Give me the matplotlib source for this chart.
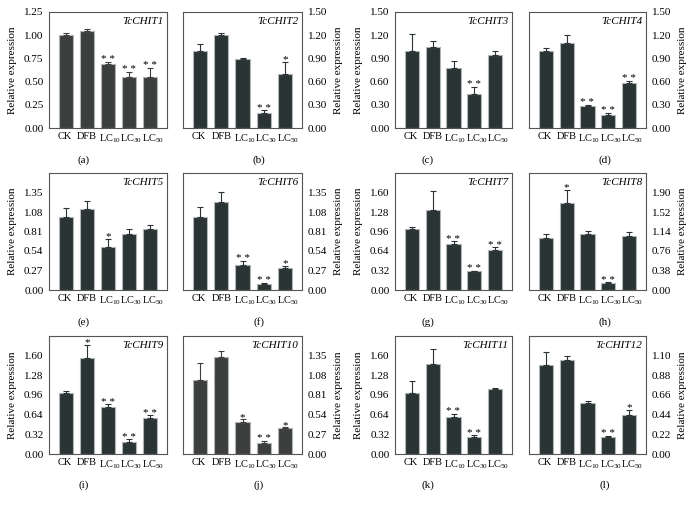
import matplotlib
matplotlib.use("Agg")
import matplotlib.pyplot as plt
import numpy as np

plt.rcParams["font.family"] = ["Liberation Serif", "DejaVu Serif"]
plt.rcParams["mathtext.fontset"] = "custom"
plt.rcParams["mathtext.rm"] = "Liberation Serif"
plt.rcParams["mathtext.it"] = "Liberation Serif:italic"

categories = ["CK", "DFB", r"LC$_{10}$", r"LC$_{30}$", r"LC$_{50}$"]

chit1_mean = [1.00, 1.05, 0.685, 0.545, 0.545]
chit1_err = [0.02, 0.02, 0.03, 0.06, 0.10]
chit1_sig = ["", "", "**", "**", "**"]

chit2_mean = [0.99, 1.20, 0.895, 0.20, 0.70]
chit2_err = [0.10, 0.03, 0.01, 0.03, 0.15]
chit2_sig = ["", "", "", "**", "*"]

chit3_mean = [0.99, 1.05, 0.78, 0.44, 0.945]
chit3_err = [0.22, 0.08, 0.09, 0.09, 0.05]
chit3_sig = ["", "", "", "**", ""]

chit4_mean = [0.99, 1.10, 0.28, 0.17, 0.58]
chit4_err = [0.04, 0.10, 0.02, 0.025, 0.03]
chit4_sig = ["", "", "**", "**", "**"]

chit5_mean = [1.01, 1.12, 0.59, 0.78, 0.85]
chit5_err = [0.13, 0.11, 0.115, 0.06, 0.05]
chit5_sig = ["", "", "*", "", ""]

chit6_mean = [1.01, 1.225, 0.345, 0.08, 0.305]
chit6_err = [0.14, 0.13, 0.055, 0.015, 0.03]
chit6_sig = ["", "", "**", "**", "*"]

chit7_mean = [1.00, 1.31, 0.76, 0.31, 0.65]
chit7_err = [0.03, 0.32, 0.04, 0.01, 0.05]
chit7_sig = ["", "", "**", "**", "**"]

chit8_mean = [1.015, 1.69, 1.10, 0.13, 1.06]
chit8_err = [0.08, 0.26, 0.05, 0.02, 0.07]
chit8_sig = ["", "*", "", "**", ""]

chit9_mean = [1.00, 1.57, 0.76, 0.19, 0.58]
chit9_err = [0.02, 0.20, 0.05, 0.05, 0.05]
chit9_sig = ["", "*", "**", "**", "**"]

chit10_mean = [1.02, 1.33, 0.445, 0.15, 0.355]
chit10_err = [0.23, 0.08, 0.03, 0.03, 0.01]
chit10_sig = ["", "", "*", "**", "*"]

chit11_mean = [1.00, 1.465, 0.61, 0.275, 1.05]
chit11_err = [0.19, 0.25, 0.045, 0.03, 0.03]
chit11_sig = ["", "", "**", "**", ""]

chit12_mean = [1.00, 1.05, 0.57, 0.185, 0.44]
chit12_err = [0.14, 0.05, 0.02, 0.02, 0.05]
chit12_sig = ["", "", "", "**", "*"]

genes = ["TcCHIT%d" % i for i in range(1, 13)]
panel_letters = list("abcdefghijkl")
means = [chit1_mean, chit2_mean, chit3_mean, chit4_mean, chit5_mean, chit6_mean,
         chit7_mean, chit8_mean, chit9_mean, chit10_mean, chit11_mean, chit12_mean]
errs = [chit1_err, chit2_err, chit3_err, chit4_err, chit5_err, chit6_err,
        chit7_err, chit8_err, chit9_err, chit10_err, chit11_err, chit12_err]
sigs = [chit1_sig, chit2_sig, chit3_sig, chit4_sig, chit5_sig, chit6_sig,
        chit7_sig, chit8_sig, chit9_sig, chit10_sig, chit11_sig, chit12_sig]
# (tick step, y max of the frame)
scales = [(0.25, 1.25), (0.30, 1.50), (0.30, 1.50), (0.30, 1.50),
          (0.27, 1.62), (0.27, 1.62), (0.32, 1.92), (0.38, 2.28),
          (0.32, 1.92), (0.27, 1.62), (0.32, 1.92), (0.22, 1.32)]

W, H = 694, 507
col_x = [(49, 167), (183, 302), (395, 512), (529, 646)]
row_y = [(12, 128), (173, 290), (336, 454)]
label_x = [84, 259, 428, 605]
label_y = [160, 322, 485]

fig = plt.figure(figsize=(W / 100, H / 100), dpi=100)

for i in range(12):
    r, c = divmod(i, 4)
    x0, x1 = col_x[c]
    y0, y1 = row_y[r]
    ax = fig.add_axes([x0 / W, 1 - y1 / H, (x1 - x0) / W, (y1 - y0) / H])
    x = np.arange(5)
    face = "#3d3f3f" if i in (0, 9) else "#2b3434"
    ax.bar(x, means[i], width=0.68, color=face, edgecolor="#b0b6b6", linewidth=0.8,
           yerr=[np.zeros(5), errs[i]], capsize=2,
           error_kw=dict(ecolor=face, elinewidth=0.8, capthick=0.8))
    step, ymax = scales[i]
    ax.set_xlim(-0.8, 4.8)
    ax.set_ylim(0, ymax)
    ticks = np.arange(6) * step
    ax.set_yticks(ticks)
    ax.set_yticklabels(["%.2f" % t for t in ticks], fontsize=8)
    ax.set_xticks(x + np.array([-0.05, 0, 0.1, 0.12, 0.14]))
    ax.set_xticklabels(categories, fontsize=7.5)
    ax.tick_params(axis="x", length=0, pad=3)
    ax.tick_params(axis="y", length=0, pad=4)
    for s in ax.spines.values():
        s.set_color("#555555")
        s.set_linewidth(0.8)
    if c % 2 == 1:
        ax.yaxis.tick_right()
        ax.yaxis.set_label_position("right")
        ax.set_ylabel("Relative expression", fontsize=8, labelpad=5, rotation=90)
    else:
        ax.set_ylabel("Relative expression", fontsize=8, labelpad=5)
    ax.text(0.97, 0.96, genes[i], transform=ax.transAxes, ha="right", va="top",
            fontsize=8, style="italic")
    for j in range(5):
        if sigs[i][j]:
            ax.text(j, means[i][j] + errs[i][j] - ymax * 0.02, " ".join(sigs[i][j]),
                    ha="center", va="bottom", fontsize=8)
    fig.text(label_x[c] / W, 1 - label_y[r] / H, "(%s)" % panel_letters[i],
             ha="center", va="center", fontsize=8)

fig.savefig("out.png", dpi=100)
